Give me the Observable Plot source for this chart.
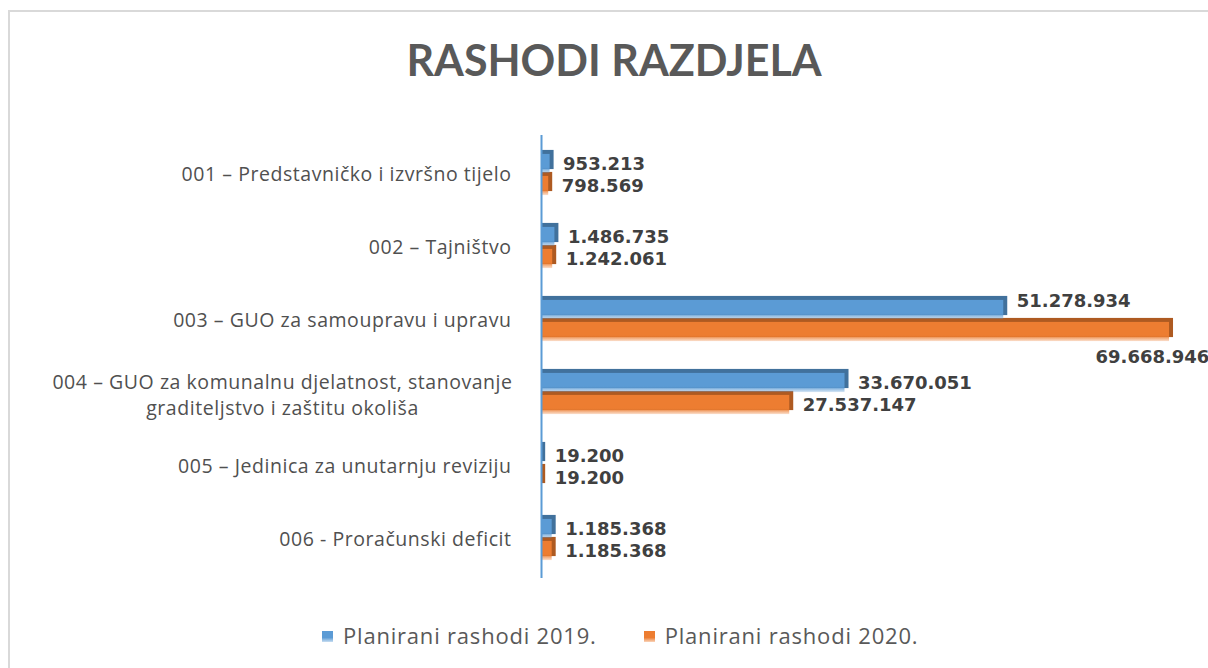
<!DOCTYPE html>
<html><head><meta charset="utf-8">
<script src="https://cdn.jsdelivr.net/npm/d3@7"></script>
<script src="https://cdn.jsdelivr.net/npm/@observablehq/plot@0.6"></script>
<style>
html,body{margin:0;padding:0;width:1208px;height:668px;overflow:hidden;background:#fff;}
#frame{position:absolute;left:8px;top:10px;width:1400px;height:800px;border:2px solid #d9d9d9;box-sizing:border-box;}
#title{position:absolute;left:0;width:1228px;top:36px;text-align:center;font-family:Lato;font-weight:bold;font-size:43px;line-height:48px;color:#595959;}
#chart{position:absolute;left:0;top:120px;}
#legend{position:absolute;top:620px;left:322px;display:flex;align-items:center;font-family:"Open Sans";font-size:22px;letter-spacing:0.8px;color:#595959;}
#legend .item{display:flex;align-items:center;margin-right:47px;}
#legend .sw{width:11px;height:11px;margin-right:10px;margin-top:2px;}
</style></head>
<body>
<div id="frame"></div>
<div id="title">RASHODI RAZDJELA</div>
<div id="chart"></div>
<div id="legend"></div>
<script>
const categories = [
  "001 – Predstavničko i izvršno tijelo",
  "002 – Tajništvo",
  "003 – GUO za samoupravu i upravu",
  "004 – GUO za komunalnu djelatnost, stanovanje\ngraditeljstvo i zaštitu okoliša",
  "005 – Jedinica za unutarnju reviziju",
  "006 - Proračunski deficit"
];
const series = ["Planirani rashodi 2019.", "Planirani rashodi 2020."];
const values2019 = [953213, 1486735, 51278934, 33670051, 19200, 1185368];
const values2020 = [798569, 1242061, 69668946, 27537147, 19200, 1185368];
const colors = ["#5b9bd5", "#ed7d31"];
const darkColors = ["#41719c", "#ae5a21"];

const fmt = d3.formatLocale({decimal: ",", thousands: ".", grouping: [3], currency: ["", ""]}).format(",d");

const rows = [];
categories.forEach((c, i) => {
  rows.push({cat: c, s: 0, v: values2019[i], other: values2020[i], i});
  rows.push({cat: c, s: 1, v: values2020[i], other: values2019[i], i});
});
const blue = rows.filter(r => r.s === 0);
const orange = rows.filter(r => r.s === 1);
const maxV = d3.max(rows, r => r.v);
const crowded = r => r.s === 0 ? r.other > r.v * 1.2 : false;

const H = 480, MT = 15, MB = 22;
const bw = (H - MT - MB) / categories.length;
const half = bw / 2;
const barH = 20;
const depth = 4;

function barMarks(data, s) {
  const it = s === 0 ? half - barH - 1 : half + 1;
  const ib = s === 0 ? half + 1 : half - barH - 1;
  return [
    Plot.barX(data, {x: "v", y: "cat", fill: darkColors[s], insetTop: it, insetBottom: ib, insetRight: -depth, dy: -depth}),
    Plot.barX(data, {x: "v", y: "cat", fill: `url(#grad${s})`, insetTop: it, insetBottom: ib})
  ];
}

const labelFont = {fontFamily: "DejaVu Sans", fontWeight: "bold", fontSize: 18, fill: "#404040"};
const catFont = {fontFamily: "Open Sans", fontSize: 19.5, fill: "#505050"};

const chart = Plot.plot({
  width: 1208,
  height: H,
  marginLeft: 541,
  marginRight: 36,
  marginTop: MT,
  marginBottom: MB,
  x: {domain: [0, 70e6], axis: null},
  y: {domain: categories, padding: 0, axis: null},
  style: {overflow: "visible", background: "transparent"},
  marks: [
    ...barMarks(orange, 1),
    ...barMarks(blue, 0),
    Plot.ruleX([0], {stroke: "#5b9bd5", strokeWidth: 2}),
    // blue labels
    Plot.text(blue.filter(r => !crowded(r)), {x: "v", y: "cat", text: r => fmt(r.v), dx: 13, dy: -11, textAnchor: "start", ...labelFont}),
    Plot.text(blue.filter(r => crowded(r)), {x: "v", y: "cat", text: r => fmt(r.v), dx: 13, dy: -20, textAnchor: "start", ...labelFont}),
    // orange labels
    Plot.text(orange.filter(r => r.v !== maxV), {x: "v", y: "cat", text: r => fmt(r.v), dx: 13, dy: 11, textAnchor: "start", ...labelFont}),
    Plot.text(orange.filter(r => r.v === maxV), {x: "v", y: "cat", text: r => fmt(r.v), dx: -74, dy: 36, textAnchor: "start", ...labelFont}),
    // category labels
    Plot.text(categories.filter(c => !c.includes("\n")), {y: d => d, frameAnchor: "left", textAnchor: "end", dx: -30, ...catFont}),
    Plot.text(categories.filter(c => c.includes("\n")), {y: d => d, frameAnchor: "left", textAnchor: "middle", dx: -259, lineHeight: 1.3, ...catFont})
  ]
});

// widen the category labels slightly
d3.select(chart).selectAll("g[font-family='Open Sans']").attr("letter-spacing", "0.55px");

// gradients for the front faces
const ns = "http://www.w3.org/2000/svg";
const defs = document.createElementNS(ns, "defs");
colors.forEach((c, s) => {
  const g = document.createElementNS(ns, "linearGradient");
  g.setAttribute("id", "grad" + s);
  g.setAttribute("x1", "0"); g.setAttribute("y1", "0");
  g.setAttribute("x2", "0"); g.setAttribute("y2", "1");
  [[0, 1], [0.7, 1], [1, 0.25]].forEach(([o, op]) => {
    const st = document.createElementNS(ns, "stop");
    st.setAttribute("offset", o);
    st.setAttribute("stop-color", c);
    st.setAttribute("stop-opacity", op);
    g.appendChild(st);
  });
  defs.appendChild(g);
});
chart.insertBefore(defs, chart.firstChild);
document.getElementById("chart").appendChild(chart);

const legend = document.getElementById("legend");
series.forEach((name, s) => {
  const item = document.createElement("div");
  item.className = "item";
  const sw = document.createElement("span");
  sw.className = "sw";
  sw.style.background = `linear-gradient(${colors[s]} 60%, ${colors[s]}55)`;
  item.appendChild(sw);
  const t = document.createElement("span");
  t.textContent = name;
  item.appendChild(t);
  legend.appendChild(item);
});
</script>
</body></html>
